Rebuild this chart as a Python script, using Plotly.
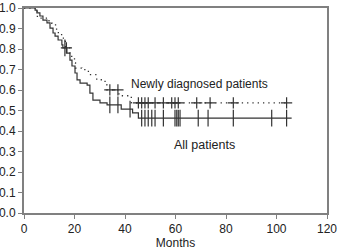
import plotly.graph_objects as go

# Kaplan-Meier step data (months, survival)
all_t = [0, 4.4, 5.1, 6.3, 7.5, 9.1, 10.3, 11.5, 12.3, 13.5, 15.0, 15.4, 17.0, 18.2, 19.0, 20.2,
         21.0, 22.2, 25.0, 26.1, 27.3, 30.1, 32.9, 38.5, 43.0, 45.3, 106]
all_s = [1.0, 0.99, 0.976, 0.961, 0.941, 0.927, 0.902, 0.878, 0.863, 0.844, 0.82, 0.805, 0.78, 0.746,
         0.717, 0.683, 0.649, 0.634, 0.624, 0.585, 0.551, 0.537, 0.527, 0.507, 0.488, 0.463, 0.463]

new_t = [0, 5.3, 9.9, 11.0, 12.9, 13.6, 15.6, 16.4, 18.2, 18.9, 20.0, 20.4, 22.9, 25.5, 28.8,
         32.1, 32.8, 37.6, 42.5, 104.5]
new_s = [1.0, 0.951, 0.927, 0.918, 0.894, 0.870, 0.845, 0.805, 0.78, 0.756, 0.732, 0.707, 0.699,
         0.675, 0.650, 0.626, 0.601, 0.572, 0.537, 0.537]

# Censoring marks
all_cens_t = [16.2, 34.0, 37.2, 42.0, 46.6, 47.9, 49.2, 50.6, 51.9, 55.2, 59.8, 60.5, 61.1, 61.8,
              69.0, 72.9, 82.9, 98.1, 104.0]
new_cens_t = [16.8, 34.0, 37.2, 45.3, 46.6, 47.9, 49.2, 51.9, 55.2, 58.5, 59.8, 61.1, 68.4, 73.7,
              82.9, 104.0]

x_ticks = [0, 20, 40, 60, 80, 100, 120]
y_ticks = [0.0, 0.1, 0.2, 0.3, 0.4, 0.5, 0.6, 0.7, 0.8, 0.9, 1.0]


def km_value(ts, ss, t):
    v = ss[0]
    for ti, si in zip(ts, ss):
        if ti <= t:
            v = si
    return v


line_col = "#333333"
fig = go.Figure()
fig.add_trace(go.Scatter(x=all_t, y=all_s, mode="lines", line=dict(shape="hv", color=line_col, width=1.2),
                         showlegend=False, hoverinfo="skip"))
fig.add_trace(go.Scatter(x=new_t, y=new_s, mode="lines",
                         line=dict(shape="hv", color=line_col, width=1.3, dash="1.3px,4px"),
                         showlegend=False, hoverinfo="skip"))
fig.add_trace(go.Scatter(x=all_cens_t, y=[km_value(all_t, all_s, t) for t in all_cens_t], mode="markers",
                         marker=dict(symbol="line-ns", size=12, line=dict(color=line_col, width=1.2)),
                         showlegend=False, hoverinfo="skip"))
fig.add_trace(go.Scatter(x=new_cens_t, y=[km_value(new_t, new_s, t) for t in new_cens_t], mode="markers",
                         marker=dict(symbol="cross-thin", size=8, line=dict(color=line_col, width=1.2)),
                         showlegend=False, hoverinfo="skip"))

font = dict(family="Liberation Sans, Arial, sans-serif", size=12, color="#222222")
fig.add_annotation(x=69.5, y=0.63, text="Newly diagnosed patients", showarrow=False, font=dict(font, size=12),
                   xanchor="center", yanchor="middle")
fig.add_annotation(x=71.5, y=0.33, text="All patients", showarrow=False, font=dict(font, size=12.5),
                   xanchor="center", yanchor="middle")

fig.update_layout(
    width=338, height=250,
    margin=dict(l=24, r=11, t=8, b=37, autoexpand=False),
    paper_bgcolor="white", plot_bgcolor="white",
    font=font,
    xaxis=dict(range=[0, 120], tickvals=x_ticks, ticks="outside", ticklen=4, tickcolor="#808080",
               showgrid=False, zeroline=False, showline=True, linecolor="#808080", linewidth=2, mirror=True,
               automargin=False,
               title=dict(text="Months", font=dict(size=12), standoff=3), tickfont=dict(size=12)),
    yaxis=dict(range=[0, 1.0], tickvals=y_ticks, tickformat=".1f", ticks="outside", ticklen=4, tickcolor="#808080",
               showgrid=False, zeroline=False, showline=True, linecolor="#808080", linewidth=2, mirror=True,
               automargin=False, tickfont=dict(size=12)),
)

fig.write_html(
    "out.html",
    config={"displayModeBar": False},
    post_script="document.body.style.margin='0';",
)
